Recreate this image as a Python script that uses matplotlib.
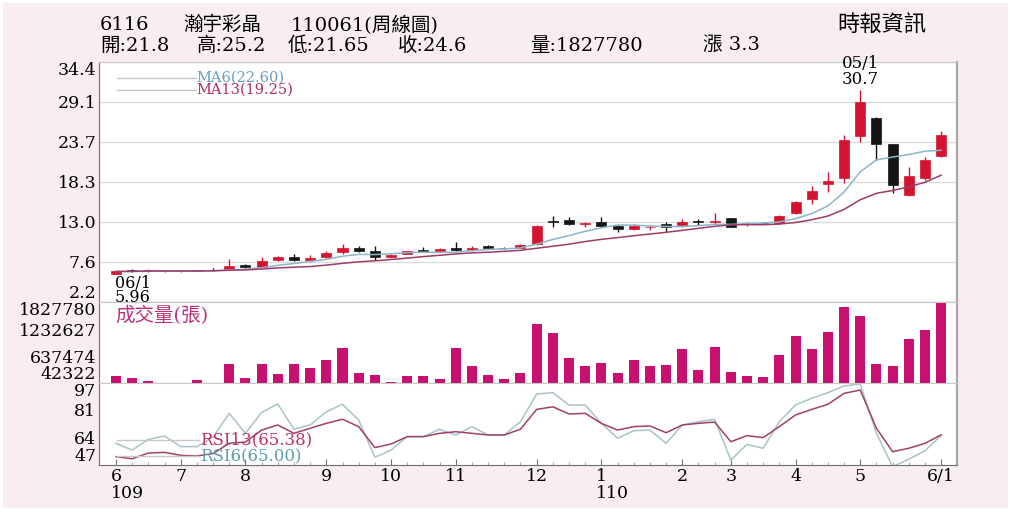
import matplotlib
matplotlib.use("Agg")
import matplotlib.pyplot as plt
from matplotlib.patches import Rectangle
import numpy as np
import pandas as pd

# weekly candles, 2020-06-01 .. 2021-06-01
opens = [6.0, 6.45, 6.3, 6.35, 6.35, 6.38, 6.5, 6.6, 7.15, 6.95,
         7.85, 8.3, 7.85, 8.2, 8.85, 9.5, 9.1, 8.3, 8.7, 9.2,
         9.1, 9.45, 9.2, 9.7, 9.5, 9.5, 10.0, 13.0, 13.2, 12.7,
         12.9, 12.4, 12.0, 12.2, 12.6, 12.4, 13.0, 13.0, 13.45, 12.6,
         12.85, 12.8, 14.1, 16.0, 18.05, 18.8, 24.5, 26.9, 23.35, 16.5,
         18.8, 21.8]
highs = [6.35, 6.6, 6.6, 6.5, 6.5, 6.55, 6.7, 8.0, 7.3, 8.2,
         8.4, 8.6, 8.5, 9.0, 10.0, 9.7, 9.7, 8.6, 9.1, 9.6,
         9.4, 10.3, 9.7, 9.85, 9.6, 10.0, 12.5, 13.8, 13.6, 13.0,
         13.6, 12.5, 12.7, 12.5, 12.9, 13.3, 13.3, 14.2, 13.5, 12.95,
         13.0, 13.9, 15.7, 17.7, 19.6, 24.6, 30.7, 27.0, 23.4, 20.3,
         21.7, 25.2]
lows = [5.96, 6.2, 6.2, 6.25, 6.25, 6.3, 6.4, 6.5, 6.8, 6.9,
        7.75, 7.7, 7.8, 8.1, 8.7, 8.95, 7.9, 8.2, 8.6, 8.95,
        9.0, 9.1, 9.1, 9.3, 9.3, 9.4, 9.9, 12.3, 12.5, 12.3,
        12.2, 11.6, 11.9, 11.8, 11.6, 12.3, 12.5, 12.6, 12.2, 12.4,
        12.6, 12.7, 14.0, 15.4, 16.9, 18.2, 23.6, 21.2, 16.8, 16.4,
        18.6, 21.65]
closes = [6.3, 6.3, 6.45, 6.38, 6.37, 6.42, 6.45, 7.0, 6.9, 7.65,
          8.3, 7.9, 8.05, 8.75, 9.4, 9.1, 8.2, 8.5, 9.0, 9.05,
          9.3, 9.2, 9.5, 9.45, 9.45, 9.8, 12.4, 12.95, 12.65, 12.8,
          12.35, 12.0, 12.35, 12.25, 12.2, 12.9, 12.95, 13.05, 12.3, 12.8,
          12.75, 13.8, 15.6, 17.1, 18.5, 23.9, 29.1, 23.4, 17.9, 19.1,
          21.2, 24.6]
volumes = [188000, 159000, 93000, 40000, 45000, 108000, 45000, 468000, 152000, 468000,
           247000, 468000, 373000, 556000, 814000, 263000, 225000, 70000, 197000, 188000,
           137000, 814000, 417000, 225000, 130000, 270000, 1343000, 1144000, 586000, 424000,
           483000, 256000, 549000, 424000, 432000, 785000, 329000, 836000, 285000, 197000,
           168000, 666000, 1085000, 798000, 1160000, 1718000, 1526000, 468000, 410000, 1019000,
           1204000, 1827780]
rsi6 = [60.2, 56.1, 62.6, 64.7, 58.2, 58.2, 64.0, 78.5, 66.3, 79.1,
        84.2, 68.8, 71.4, 79.5, 84.0, 74.4, 51.7, 56.1, 64.3, 64.3,
        68.8, 65.3, 70.4, 65.3, 65.3, 73.4, 90.3, 91.1, 83.6, 83.6,
        72.4, 63.3, 67.9, 68.3, 60.2, 71.4, 73.4, 74.9, 50.0, 59.6,
        57.2, 73.4, 83.6, 87.7, 91.1, 95.2, 96.4, 66.3, 46.0, 50.5,
        55.7, 65.0]
rsi13 = [52.1, 50.8, 54.3, 54.7, 52.9, 52.5, 54.0, 60.2, 61.0, 68.3,
         71.4, 66.3, 69.4, 72.4, 74.9, 70.4, 57.6, 59.8, 64.3, 64.3,
         66.3, 67.3, 66.3, 65.3, 65.3, 68.8, 80.9, 82.5, 78.1, 78.5,
         72.4, 68.3, 70.4, 70.8, 66.7, 71.4, 72.4, 73.2, 61.2, 64.9,
         63.7, 70.4, 77.5, 80.9, 84.0, 90.7, 92.7, 69.4, 55.1, 57.2,
         60.2, 65.38]

price_ticks = [2.2, 7.6, 13.0, 18.3, 23.7, 29.1, 34.4]
vol_ticks = [42322, 637474, 1232627, 1827780]
rsi_ticks = [47, 64, 81, 97]
month_pos = [0, 4, 8, 13, 17, 21, 26, 30, 35, 38, 42, 46, 51]
month_labels = ["6", "7", "8", "9", "10", "11", "12", "1", "2", "3", "4", "5", "6/1"]
year_marks = [(0, "109"), (30, "110")]

title_parts = [(100, "6116"), (183, "瀚宇彩晶"), (291, "110061(周線圖)")]
info_parts = [(100, "開:21.8"), (197, "高:25.2"), (288, "低:21.65"),
              (398, "收:24.6"), (530, "量:1827780"), (703, "漲 3.3")]
ma_labels = ["MA6(22.60)", "MA13(19.25)"]
rsi_labels = ["RSI13(65.38)", "RSI6(65.00)"]
low_date, high_date = "06/1", "05/1"

BG = "#f8edf1"
RED = "#d2142f"
BLACK = "#151515"
VOL = "#c8106e"
MA6_C, MA13_C = "#8db5c8", "#9c3c68"
FONT = ["DejaVu Serif", "Noto Sans CJK TC"]
plt.rcParams["font.family"] = FONT

W, H = 1024, 512
fig = plt.figure(figsize=(W / 100, H / 100), dpi=100)
fig.patch.set_facecolor("white")
fig.add_artist(Rectangle((3 / W, 4 / H), 1005 / W, 505 / H, transform=fig.transFigure,
                         facecolor=BG, edgecolor="none", zorder=-10))


def px_axes(top, bottom):
    return fig.add_axes([99 / W, 1 - bottom / H, 858 / W, (bottom - top) / H])


ax_p = px_axes(62, 302)
ax_v = px_axes(302, 383)
ax_r = px_axes(383, 465)

x = np.arange(len(closes))
o, h, l, c = (np.array(a) for a in (opens, highs, lows, closes))
up = c >= o
colors = np.where(up, RED, BLACK)

for ax in (ax_p, ax_v, ax_r):
    ax.set_facecolor("white")
    ax.set_xlim(-1.05, 51.98)
    for side in ("left", "bottom"):
        ax.spines[side].set_color("#707070")
    ax.spines["top"].set_color("#c8c8c8")
    ax.spines["right"].set_color("#a8a8a8")
    ax.spines["right"].set_linewidth(1.6)
    ax.tick_params(axis="y", length=0, pad=2, labelsize=12.5)
    ax.tick_params(axis="x", bottom=False, labelbottom=False)


def edge_labels(ax):
    ticks = ax.yaxis.get_major_ticks()
    ticks[0].label1.set_va("bottom")
    ticks[-1].label1.set_va("top")


# --- price panel ---
ax_p.set_ylim(price_ticks[0], price_ticks[-1])
ax_p.set_yticks(price_ticks)
ax_p.set_yticklabels([f"{t:.1f}" for t in price_ticks])
ax_p.grid(axis="y", color="#dcdcdc", lw=1)
ax_p.set_axisbelow(True)
ax_p.vlines(x, l, h, colors=colors, lw=1, zorder=3)
ax_p.bar(x, np.maximum(np.abs(c - o), 0.06), bottom=np.minimum(o, c), width=0.62,
         color=colors, edgecolor=colors, lw=0.5, zorder=4)

ma6 = pd.Series(closes).rolling(6, min_periods=1).mean()
ma13 = pd.Series(closes).rolling(13, min_periods=1).mean()
ax_p.plot(x, ma6, color=MA6_C, lw=1.1, zorder=5)
ax_p.plot(x, ma13, color=MA13_C, lw=1.1, zorder=5)

for yy, lab, col in ((0.935, ma_labels[0], "#6a9cc4"), (0.885, ma_labels[1], "#b02a66")):
    ax_p.plot([0.021, 0.113], [yy, yy], transform=ax_p.transAxes, color="#c8c8c8", lw=1)
    ax_p.text(0.114, yy, lab, transform=ax_p.transAxes, color=col, fontsize=10.5, va="center")

i_lo, i_hi = int(np.argmin(l)), int(np.argmax(h))
ax_p.annotate(f"{low_date}\n{l[i_lo]:g}", xy=(i_lo, l[i_lo]), xytext=(-1, -1),
              textcoords="offset pixels", ha="left", va="top", fontsize=11.5,
              linespacing=0.8, annotation_clip=False, zorder=6)
ax_p.annotate(f"{high_date}\n{h[i_hi]:g}", xy=(i_hi, h[i_hi]), xytext=(0, 2),
              textcoords="offset pixels", ha="center", va="bottom", fontsize=12,
              linespacing=0.9, annotation_clip=False, zorder=6)
edge_labels(ax_p)

# --- volume panel ---
ax_v.set_ylim(vol_ticks[0], vol_ticks[-1])
ax_v.set_yticks(vol_ticks)
ax_v.set_yticklabels([str(t) for t in vol_ticks])
ax_v.bar(x, volumes, width=0.62, color=VOL)
ax_v.text(0.019, 0.835, "成交量(張)", transform=ax_v.transAxes, color="#c0307a",
          fontsize=14, va="center")
edge_labels(ax_v)

# --- RSI panel ---
ax_r.set_ylim(rsi_ticks[0], rsi_ticks[-1])
ax_r.set_yticks(rsi_ticks)
ax_r.plot(x, rsi6, color="#a9c3c8", lw=1.1)
ax_r.plot(x, rsi13, color="#a0406a", lw=1.1)
for yy, lab, col in ((0.31, rsi_labels[0], "#c0306a"), (0.105, rsi_labels[1], "#5e9cb0")):
    ax_r.plot([0.021, 0.117], [yy, yy], transform=ax_r.transAxes, color="#c8c8c8", lw=1)
    ax_r.text(0.118, yy, lab, transform=ax_r.transAxes, color=col, fontsize=12, va="center")
edge_labels(ax_r)

ax_r.set_xticks(month_pos)
ax_r.set_xticklabels(month_labels)
ax_r.set_xticks(x, minor=True)
ax_r.tick_params(axis="x", which="major", bottom=True, labelbottom=True, direction="in",
                 length=4, color="#707070", pad=2, labelsize=12.5)
ax_r.tick_params(axis="x", which="minor", bottom=True, direction="in", length=2,
                 color="#909090")
for pos, yr in year_marks:
    ax_r.annotate(yr, xy=(pos, 0), xycoords=("data", "axes fraction"), xytext=(-5, -29),
                  textcoords="offset pixels", ha="left", va="center", fontsize=12.5,
                  annotation_clip=False)

# --- header ---
for px, s in title_parts:
    fig.text(px / W, 1 - 25 / H, s, fontsize=14, va="center", ha="left")
for px, s in info_parts:
    fig.text(px / W, 1 - 46 / H, s, fontsize=14, va="center", ha="left")
fig.text(882 / W, 1 - 25 / H, "時報資訊", fontsize=16, va="center", ha="center")

fig.savefig("out.png", dpi=100, facecolor=fig.get_facecolor())
